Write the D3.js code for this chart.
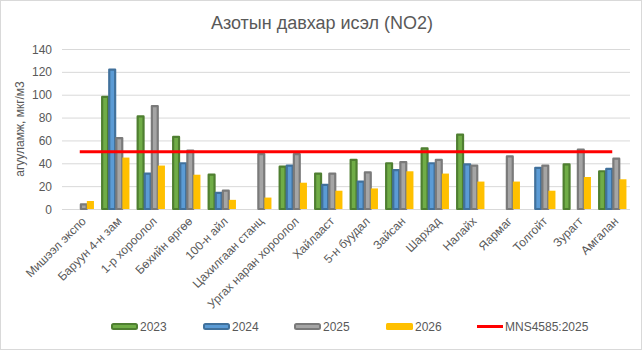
<!DOCTYPE html>
<html>
<head>
<meta charset="utf-8">
<script src="https://cdn.jsdelivr.net/npm/d3@7"></script>
<style>
  body { margin: 0; background: #fff; }
  text { font-family: "Liberation Sans", Arial, sans-serif; fill: #595959; }
</style>
</head>
<body>
<div id="chart"></div>
<script>
const stations = ["Мишээл экспо", "Баруун 4-н зам", "1-р хороолол", "Бөхийн өргөө", "100-н айл",
  "Цахилгаан станц", "Ургах наран хороолол", "Хайлааст", "5-н буудал", "Зайсан", "Шархад",
  "Налайх", "Яармаг", "Толгойт", "Зурагт", "Амгалан"];
const years = ["2023", "2024", "2025", "2026"];
const v2023 = [null, 99, 82, 64, 31, null, 38, 32, 44, 41, 54, 66, null, null, 40, 34];
const v2024 = [null, 123, 32, 41, 15, null, 39, 22, 25, 35, 41, 40, null, 37, null, 36];
const v2025 = [5, 63, 91, 52, 17, 49, 49, 32, 33, 42, 44, 39, 47, 39, 53, 45];
const v2026 = [7, 45, 38, 30, 8, 10, 23, 16, 18, 33, 31, 24, 24, 16, 28, 26];
const limitName = "MNS4585:2025";
const limitValue = 50;
const yTicks = [0, 20, 40, 60, 80, 100, 120, 140];

const W = 644, H = 353;
const margin = {left: 62, right: 14, top: 49, bottom: 144};

const fills = ["#70ad47", "#5b9bd5", "#a5a5a5", "#ffc000"];
const strokes = ["#4f7f31", "#41719c", "#7a7a7a", null];

const svg = d3.select("#chart").append("svg")
  .attr("width", W).attr("height", H);

svg.append("rect")
  .attr("x", 0.5).attr("y", 0.5)
  .attr("width", 641).attr("height", 349)
  .attr("fill", "#fff").attr("stroke", "#d9d9d9");

const x = d3.scaleBand().domain(stations)
  .range([margin.left, W - margin.right]).paddingInner(0.2).paddingOuter(0.1);
const xc = d3.scaleBand().domain(stations).range([margin.left, W - margin.right]);
const y = d3.scaleLinear().domain([0, 140]).range([H - margin.bottom, margin.top]);

// gridlines
svg.append("g").selectAll("line").data(yTicks).join("line")
  .attr("x1", margin.left).attr("x2", W - margin.right)
  .attr("y1", d => y(d) + 0.5).attr("y2", d => y(d) + 0.5)
  .attr("stroke", "#d9d9d9").attr("stroke-width", 1);

svg.append("g").selectAll("text").data(yTicks).join("text")
  .attr("x", 52).attr("y", d => y(d) + 4.5)
  .attr("text-anchor", "end").attr("font-size", 12)
  .text(d => d);

const xs = d3.scaleBand().domain(years).range([0, x.bandwidth()]);
const series = [v2023, v2024, v2025, v2026];

series.forEach((vals, k) => {
  const g = svg.append("g");
  vals.forEach((v, i) => {
    if (v == null) return;
    const sw = strokes[k] ? 2.2 : 0;
    g.append("rect")
      .attr("x", x(stations[i]) + xs(years[k]) + sw / 2)
      .attr("y", y(v) + sw / 2)
      .attr("width", xs.bandwidth() - sw + (strokes[k] ? 1 : 0))
      .attr("height", y(0) - y(v) - sw / 2)
      .attr("fill", fills[k])
      .attr("stroke", strokes[k] || "none")
      .attr("stroke-width", sw)
      .attr("stroke-linejoin", "round");
  });
});

// limit line
const lineGen = d3.line().x(d => xc(d) + xc.bandwidth() / 2).y(() => y(limitValue));
svg.append("path").datum(stations)
  .attr("d", lineGen)
  .attr("stroke", "#ff0000").attr("stroke-width", 3).attr("fill", "none");

// x labels
svg.append("g").selectAll("text").data(stations).join("text")
  .attr("transform", d => `translate(${xc(d) + xc.bandwidth() / 2 + 4},${y(0) + 10}) rotate(-45)`)
  .attr("text-anchor", "end").attr("font-size", 12)
  .attr("dy", "0.35em")
  .text(d => d);

// y label
svg.append("text")
  .attr("transform", `translate(24,${(y(0) + y(140)) / 2}) rotate(-90)`)
  .attr("text-anchor", "middle").attr("font-size", 12)
  .text("агууламж, мкг/м3");

// title
svg.append("text")
  .attr("x", 322).attr("y", 29)
  .attr("text-anchor", "middle").attr("font-size", 18)
  .text("Азотын давхар исэл (NO2)");

// legend
const legendX = [111, 203, 294, 386];
const lg = svg.append("g");
years.forEach((yr, k) => {
  const sw = strokes[k] ? 2 : 0;
  lg.append("rect")
    .attr("x", legendX[k] + sw / 2).attr("y", 323 + sw / 2)
    .attr("width", 27 - sw).attr("height", 7 - sw)
    .attr("rx", 1.5)
    .attr("fill", fills[k])
    .attr("stroke", strokes[k] || "none").attr("stroke-width", sw);
  lg.append("text").attr("x", legendX[k] + 29).attr("y", 331)
    .attr("font-size", 12).text(yr);
});
lg.append("line").attr("x1", 477).attr("x2", 503).attr("y1", 326.5).attr("y2", 326.5)
  .attr("stroke", "#ff0000").attr("stroke-width", 3);
lg.append("text").attr("x", 505).attr("y", 331).attr("font-size", 12).text(limitName);
</script>
</body>
</html>
